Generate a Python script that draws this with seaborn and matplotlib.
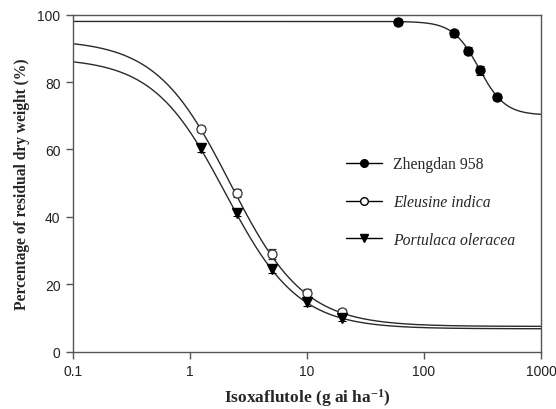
import numpy as np
import pandas as pd
import matplotlib
matplotlib.use("Agg")
import matplotlib.pyplot as plt
import seaborn as sns
from matplotlib.lines import Line2D

# ---- data ----
series_names = ["Zhengdan 958", "Eleusine indica", "Portulaca oleracea"]

zd_dose = [60, 180, 240, 300, 420]
zd_resp = [97.8, 94.5, 89.3, 83.5, 75.6]
zd_err = [1.0, 1.0, 1.0, 1.3, 1.0]

ei_dose = [1.25, 2.5, 5, 10, 20]
ei_resp = [66.0, 47.0, 29.0, 17.4, 11.8]
ei_err = [0.9, 1.2, 1.4, 1.3, 0.9]

po_dose = [1.25, 2.5, 5, 10, 20]
po_resp = [60.4, 41.2, 24.6, 14.8, 10.0]
po_err = [1.2, 0.9, 1.2, 1.2, 1.0]

# fitted log-logistic parameters (lower c, upper d, slope b, ED50 e)
zd_fit = [70.2, 98.0, 3.9, 295.0]
ei_fit = [7.5, 92.6, 1.37, 2.2]
po_fit = [6.8, 87.2, 1.40, 2.01]

x_ticks = [0.1, 1, 10, 100, 1000]
x_tick_labels = ["0.1", "1", "10", "100", "1000"]
y_ticks = [0, 20, 40, 60, 80, 100]

# ---- styling ----
sns.set_style("white")
plt.rcParams["font.family"] = ["Liberation Sans", "DejaVu Sans"]
plt.rcParams["mathtext.fontset"] = "custom"
plt.rcParams["mathtext.rm"] = "Liberation Serif:bold"
plt.rcParams["mathtext.bf"] = "Liberation Serif:bold"
plt.rcParams["mathtext.it"] = "Liberation Serif:bold"

fig = plt.figure(figsize=(5.56, 4.10), dpi=100)
ax = fig.add_axes([0.1313, 0.1398, 0.973 - 0.1313, 0.9617 - 0.1398])

xs = np.logspace(-1, 3, 600)
def ll4(x, p):
    c, d, b, e = p
    return c + (d - c) / (1 + (x / e) ** b)

curve_col = "#2a2a2a"
for name, p in zip(series_names, [zd_fit, ei_fit, po_fit]):
    df = pd.DataFrame({"x": xs, "y": ll4(xs, p)})
    sns.lineplot(data=df, x="x", y="y", ax=ax, color=curve_col, lw=1.0,
                 legend=False, zorder=2)

ms = 6.5
ax.errorbar(zd_dose, zd_resp, yerr=zd_err, fmt="o", color="black", ms=ms,
            mfc="black", mec="black", capsize=3, elinewidth=0.8, capthick=0.8, zorder=3)
ax.errorbar(ei_dose, ei_resp, yerr=ei_err, fmt="o", color="#333333", ms=ms,
            mfc="white", mec="#333333", mew=0.9, capsize=3, elinewidth=0.8, capthick=0.8, zorder=3)
ax.errorbar(po_dose, po_resp, yerr=po_err, fmt="v", color="black", ms=ms,
            mfc="black", mec="black", capsize=3, elinewidth=0.8, capthick=0.8, zorder=3)

ax.set_xscale("log")
ax.set_xlim(0.1, 1000)
ax.set_ylim(0, 100)
ax.set_xticks(x_ticks)
ax.set_xticklabels(x_tick_labels)
ax.xaxis.set_minor_locator(matplotlib.ticker.NullLocator())
ax.set_yticks(y_ticks)

for s in ax.spines.values():
    s.set_visible(True)
    s.set_color("#555555")
    s.set_linewidth(1.0)

ax.tick_params(axis="both", which="major", direction="out", length=5, width=1.0,
               color="#555555", labelsize=10, labelcolor="#222222",
               bottom=True, left=True, top=False, right=False, pad=4)

ax.set_xlabel(r"Isoxaflutole (g ai ha$^{-1}$)", fontfamily="Liberation Serif",
              fontweight="bold", fontsize=12.5, labelpad=6)
ax.set_ylabel("Percentage of residual dry weight (%)", fontfamily="Liberation Serif",
              fontweight="bold", fontsize=11.2, labelpad=5)

handles = [
    Line2D([], [], color="black", lw=1.0, marker="o", ms=5.5, mfc="black", mec="black"),
    Line2D([], [], color="black", lw=1.0, marker="o", ms=5.5, mfc="white", mec="black"),
    Line2D([], [], color="black", lw=1.0, marker="v", ms=5.5, mfc="black", mec="black"),
]
leg = ax.legend(handles, series_names, loc="center left",
                bbox_to_anchor=(0.611, 1 - 203.0 / 410), bbox_transform=fig.transFigure,
                borderaxespad=0.0,
                frameon=False, prop={"family": "Liberation Serif", "size": 11.3},
                handlelength=2.3, labelspacing=1.39, handletextpad=0.7)
leg.get_texts()[1].set_style("italic")
leg.get_texts()[2].set_style("italic")

fig.savefig("out.png", dpi=100)
